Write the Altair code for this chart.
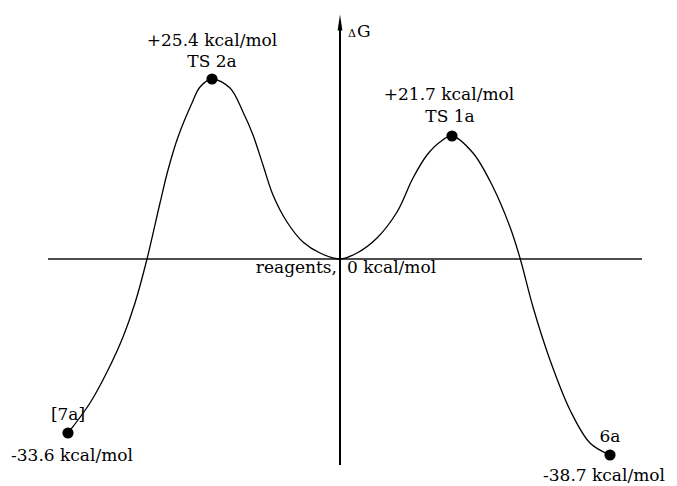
import altair as alt
import pandas as pd

# Schematic reaction profile (reaction coordinate vs. drawn profile level)
curve_x = [-27.2, -25.0, -23.2, -21.7, -20.5, -19.3, -18.0, -17.2, -16.2, -14.8, -14.0, -12.8,
           -11.0, -9.7, -8.7, -7.7, -6.7, -5.3, -3.7, -2.0, 0.0,
           1.7, 3.7, 5.7, 7.3, 8.7, 10.0, 11.2,
           13.3, 15.3, 17.0, 18.0, 19.3, 21.0, 23.0, 25.0, 27.0]
curve_y = [-17.4, -14.4, -11.1, -7.8, -4.4, 0.0, 5.6, 8.9, 12.2, 15.6, 17.2, 18.0,
           17.1, 14.7, 12.4, 9.4, 6.4, 3.7, 1.7, 0.6, 0.0,
           0.6, 2.1, 4.7, 8.1, 10.4, 11.7, 12.3,
           10.6, 7.2, 3.2, 0.1, -4.8, -10.1, -15.1, -18.4, -19.6]

species = ["[7a]", "TS 2a", "reagents,", "TS 1a", "6a"]
species_x = [-27.2, -12.8, 0.0, 11.2, 27.0]
species_y = [-17.4, 18.0, 0.0, 12.3, -19.6]
energies = ["-33.6 kcal/mol", "+25.4 kcal/mol", "0 kcal/mol", "+21.7 kcal/mol", "-38.7 kcal/mol"]
show_dot = [True, True, False, True, True]

baseline_x = [-29.2, 30.2]
axis_y = [-20.6, 23.4]
arrow_tip_y = 23.65

FONT = "DejaVu Serif"
FS = 17

xs = alt.Scale(domain=[-33.2, 32.9], nice=False, zero=False)
ys = alt.Scale(domain=[-22.7, 25.1], nice=False, zero=False)

curve_df = pd.DataFrame({"x": curve_x, "y": curve_y})
pts = pd.DataFrame({"name": species, "x": species_x, "y": species_y,
                    "energy": energies, "dot": show_dot})

X = lambda f="x": alt.X(f"{f}:Q", scale=xs, axis=None)
Y = lambda f="y": alt.Y(f"{f}:Q", scale=ys, axis=None)

hline = alt.Chart(pd.DataFrame({"x": [baseline_x[0]], "x2": [baseline_x[1]], "y": [0.0]})).mark_rule(
    color="#4d4d4d", strokeWidth=2).encode(x=X(), x2="x2:Q", y=Y())

vline = alt.Chart(pd.DataFrame({"x": [0.0], "y": [axis_y[0]], "y2": [axis_y[1]]})).mark_rule(
    color="black", strokeWidth=2).encode(x=X(), y=Y(), y2="y2:Q")

arrow = alt.Chart(pd.DataFrame({"x": [0.0], "y": [arrow_tip_y]})).mark_point(
    shape="M0,-1L0.3,1L-0.3,1Z", size=256, filled=True, color="black", opacity=1).encode(x=X(), y=Y())

line = alt.Chart(curve_df).mark_line(color="black", strokeWidth=1.3, interpolate="catmull-rom").encode(
    x=X(), y=Y())

dots = alt.Chart(pts[pts["dot"]]).mark_point(
    shape="circle", size=125, filled=True, color="black", opacity=1).encode(x=X(), y=Y())

def label(name, field, dx, dy, align="center", size=FS):
    return alt.Chart(pts[pts["name"] == name]).mark_text(
        font=FONT, fontSize=size, color="black", align=align, baseline="alphabetic",
        dx=dx, dy=dy).encode(x=X(), y=Y(), text=f"{field}:N")

labels = [
    label("TS 2a", "energy", 0, -33),
    label("TS 2a", "name", 0, -12),
    label("TS 1a", "energy", -3, -36),
    label("TS 1a", "name", -2, -14),
    label("[7a]", "name", 0, -13),
    label("[7a]", "energy", 4, 28),
    label("6a", "name", 0, -13),
    label("6a", "energy", -6, 26),
    label("reagents,", "name", -3, 14, align="right"),
    label("reagents,", "energy", 7, 14, align="left"),
]

dg_df = pd.DataFrame({"x": [0.0], "y": [arrow_tip_y], "d": ["\u0394"], "g": ["G"]})
delta = alt.Chart(dg_df).mark_text(font=FONT, fontSize=11, align="left", baseline="alphabetic",
                                   dx=8, dy=14, color="black").encode(x=X(), y=Y(), text="d:N")
gee = alt.Chart(dg_df).mark_text(font=FONT, fontSize=17, align="left", baseline="alphabetic",
                                 dx=17, dy=14, color="black").encode(x=X(), y=Y(), text="g:N")

chart = alt.layer(hline, vline, arrow, line, dots, *labels, delta, gee).properties(
    width=661, height=478, padding=0, autosize=alt.AutoSizeParams(type="none")
).configure_view(stroke=None)

chart.save("out.html", embed_options={"renderer": "svg", "actions": False})
